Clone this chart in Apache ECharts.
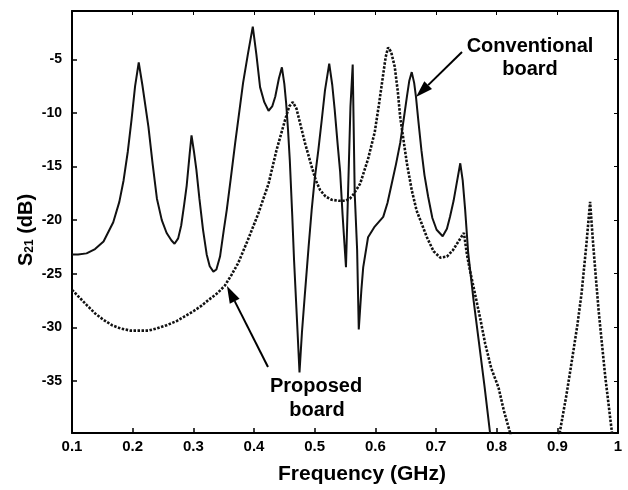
<!DOCTYPE html>
<html>
<head>
<meta charset="utf-8">
<script src="https://cdn.jsdelivr.net/npm/echarts@6/dist/echarts.min.js"></script>
<style>html,body{margin:0;padding:0;background:#fff}#c{width:628px;height:490px}</style>
</head>
<body>
<div id="c"></div>
<script>
// ---- data (frequency in GHz, S21 in dB) ----
var convFreq = [0.100,0.110,0.124,0.138,0.152,0.168,0.178,0.185,0.192,0.198,0.204,0.210,0.216,0.226,0.233,0.240,0.248,0.256,0.264,0.269,0.275,0.280,0.285,0.289,0.294,0.297,0.301,0.305,0.310,0.316,0.322,0.327,0.333,0.338,0.344,0.350,0.355,0.362,0.369,0.376,0.382,0.390,0.398,0.404,0.410,0.417,0.424,0.430,0.435,0.441,0.446,0.450,0.453,0.456,0.459,0.463,0.466,0.471,0.475,0.479,0.484,0.490,0.495,0.500,0.506,0.512,0.517,0.524,0.529,0.533,0.538,0.542,0.546,0.5516,0.5590,0.5627,0.5660,0.5700,0.5727,0.577,0.580,0.588,0.599,0.613,0.620,0.627,0.634,0.641,0.647,0.652,0.656,0.660,0.664,0.667,0.671,0.676,0.681,0.687,0.694,0.701,0.711,0.718,0.723,0.729,0.734,0.740,0.744,0.748,0.753,0.762,0.771,0.780,0.789,0.800];
var convS21 = [-23.2,-23.2,-23.1,-22.7,-22.0,-20.2,-18.3,-16.3,-13.6,-10.7,-7.5,-5.3,-7.4,-11.3,-14.8,-18.0,-20.0,-21.2,-21.9,-22.2,-21.7,-20.5,-18.5,-16.8,-13.8,-12.1,-13.6,-15.3,-18.0,-20.9,-23.2,-24.3,-24.8,-24.6,-23.4,-21.0,-19.1,-16.0,-12.8,-9.8,-7.2,-4.5,-1.96,-4.6,-7.6,-9.0,-9.8,-9.4,-8.5,-6.8,-5.75,-7.3,-9.1,-11.5,-14.4,-19.5,-23.7,-29.5,-34.2,-30.5,-26.8,-22.5,-19.1,-16.2,-13.5,-10.5,-7.9,-5.4,-7.4,-9.7,-13.0,-15.5,-19.5,-24.4,-9.4,-5.5,-17.5,-22.8,-30.2,-26.5,-24.4,-21.6,-20.6,-19.7,-18.4,-16.6,-14.8,-12.8,-10.5,-8.5,-7.0,-6.2,-7.2,-8.5,-10.8,-13.5,-15.8,-17.8,-19.8,-20.9,-21.5,-20.8,-19.7,-18.2,-16.6,-14.7,-16.3,-19.0,-23.0,-27.5,-31.5,-35.5,-39.8,-44];

var propFreq = [0.100,0.112,0.124,0.138,0.152,0.166,0.180,0.196,0.212,0.226,0.240,0.256,0.273,0.288,0.300,0.313,0.326,0.340,0.352,0.363,0.374,0.391,0.407,0.424,0.437,0.451,0.458,0.464,0.470,0.477,0.484,0.495,0.502,0.509,0.518,0.528,0.540,0.550,0.558,0.564,0.575,0.588,0.599,0.606,0.612,0.617,0.621,0.626,0.632,0.637,0.641,0.652,0.660,0.668,0.685,0.696,0.707,0.718,0.728,0.738,0.746,0.751,0.756,0.764,0.773,0.781,0.791,0.803,0.812,0.822,0.860,0.904,0.915,0.924,0.933,0.940,0.948,0.954,0.959,0.964,0.968,0.974,0.979,0.990,1.000];
var propS21 = [-26.5,-27.2,-27.9,-28.7,-29.3,-29.8,-30.1,-30.3,-30.3,-30.3,-30.1,-29.8,-29.4,-28.9,-28.5,-28.0,-27.4,-26.8,-26.1,-25.1,-24.0,-21.7,-19.4,-16.6,-13.5,-10.7,-9.4,-9.0,-9.6,-11.2,-12.8,-15.0,-16.3,-17.2,-17.8,-18.1,-18.2,-18.2,-18.0,-17.6,-16.6,-14.3,-11.8,-9.2,-6.8,-4.8,-3.9,-4.3,-5.7,-8.0,-10.4,-14.7,-17.2,-19.1,-21.6,-22.9,-23.5,-23.4,-22.8,-21.9,-21.2,-23.2,-24.7,-26.8,-29.2,-31.5,-33.8,-35.6,-37.8,-39.8,-52,-39.8,-36.3,-33.1,-29.8,-26.8,-22.2,-18.3,-22.2,-25.7,-28.4,-31.8,-34.6,-39.8,-44];

var yTicks = [-35,-30,-25,-20,-15,-10,-5];
var xMin = 0.1, xMax = 1.0, xStep = 0.1;
var yMin = -39.85, yMax = -0.5;
var convLabel = ['Conventional', 'board'];
var propLabel = ['Proposed', 'board'];

function pairs(xs, ys){ return xs.map(function(x,i){ return [x, ys[i]]; }); }

function arrow(tail, tip, headLen, headHalf){
  var dx = tip[0]-tail[0], dy = tip[1]-tail[1];
  var L = Math.sqrt(dx*dx+dy*dy), ux = dx/L, uy = dy/L;
  var bx = tip[0]-ux*headLen, by = tip[1]-uy*headLen;
  var px = -uy, py = ux;
  return [
    {type:'line', shape:{x1:tail[0],y1:tail[1],x2:bx,y2:by}, style:{stroke:'#000',lineWidth:2}},
    {type:'polygon', shape:{points:[[tip[0],tip[1]],[bx+px*headHalf,by+py*headHalf],[bx-px*headHalf,by-py*headHalf]]}, style:{fill:'#000'}}
  ];
}

var font = '"Liberation Sans", Arial, sans-serif';
var chart = echarts.init(document.getElementById('c'), null, {renderer:'canvas'});

var graphics = []
  .concat(arrow([462,52],[416,97],17,5.5))
  .concat(arrow([268,367],[227,286],17,5.5))
  .concat([
    {type:'text', x:530, y:46, style:{text:convLabel[0], font:'bold 20px '+font, fill:'#000', align:'center', verticalAlign:'middle'}},
    {type:'text', x:530, y:69, style:{text:convLabel[1], font:'bold 20px '+font, fill:'#000', align:'center', verticalAlign:'middle'}},
    {type:'text', x:316, y:386, style:{text:propLabel[0], font:'bold 20px '+font, fill:'#000', align:'center', verticalAlign:'middle'}},
    {type:'text', x:317, y:410, style:{text:propLabel[1], font:'bold 20px '+font, fill:'#000', align:'center', verticalAlign:'middle'}}
  ]);

var option = {
  backgroundColor:'#fff',
  animation:false,
  grid:{left:72, right:10, top:11, bottom:57, containLabel:false},
  xAxis:[
    {type:'value', min:xMin, max:xMax, interval:xStep, position:'bottom',
     axisLine:{show:true, onZero:false, lineStyle:{color:'#000', width:2}},
     axisTick:{show:true, inside:true, length:5, lineStyle:{color:'#000', width:1.5}},
     splitLine:{show:false},
     axisLabel:{margin:6, color:'#000', fontSize:15, fontWeight:'bold', fontFamily:font,
       formatter:function(v){ return String(+v.toFixed(1)); }},
     name:'Frequency (GHz)', nameLocation:'middle', nameGap:31, nameMoveOverlap:false,
     nameTextStyle:{color:'#000', fontSize:21, fontWeight:'bold', fontFamily:font, padding:[0,0,0,34]}},
    {type:'value', min:xMin, max:xMax, interval:xStep, position:'top',
     axisLine:{show:true, onZero:false, lineStyle:{color:'#000', width:2}},
     axisTick:{show:true, inside:true, length:4, lineStyle:{color:'#000', width:1}},
     axisLabel:{show:false}, splitLine:{show:false}}
  ],
  yAxis:[
    {type:'value', min:yMin, max:yMax, position:'left',
     axisLine:{show:true, onZero:false, lineStyle:{color:'#000', width:2}},
     axisTick:{show:true, inside:true, length:5, customValues:yTicks, lineStyle:{color:'#000', width:1.5}},
     splitLine:{show:false},
     axisLabel:{margin:10, color:'#000', fontSize:14, fontWeight:'bold', fontFamily:font, customValues:yTicks},
     name:'{s|S}{sub|21}{s| (dB)}', nameLocation:'middle', nameGap:36, nameRotate:90, nameMoveOverlap:false,
     nameTextStyle:{color:'#000', fontFamily:font, padding:[0,16,0,0],
       rich:{s:{fontSize:20, fontWeight:'bold', fontFamily:font, color:'#000'},
             sub:{fontSize:12, fontWeight:'bold', fontFamily:font, color:'#000', verticalAlign:'bottom', padding:[8,0,0,0]}}}},
    {type:'value', min:yMin, max:yMax, position:'right',
     axisLine:{show:true, onZero:false, lineStyle:{color:'#000', width:2}},
     axisTick:{show:true, inside:true, length:4, customValues:yTicks, lineStyle:{color:'#000', width:1}},
     axisLabel:{show:false, customValues:yTicks}, splitLine:{show:false}}
  ],
  series:[
    {name:'Conventional board', type:'line', xAxisIndex:0, yAxisIndex:0, data:pairs(convFreq, convS21),
     showSymbol:false, clip:true, smooth:false,
     lineStyle:{color:'#111', width:2}},
    {name:'Proposed board', type:'line', xAxisIndex:0, yAxisIndex:0, data:pairs(propFreq, propS21),
     showSymbol:false, clip:true, smooth:false,
     lineStyle:{color:'#111', width:2.6, type:[2.5,1.5]}}
  ],
  graphic:graphics
};
chart.setOption(option);
</script>
</body>
</html>
